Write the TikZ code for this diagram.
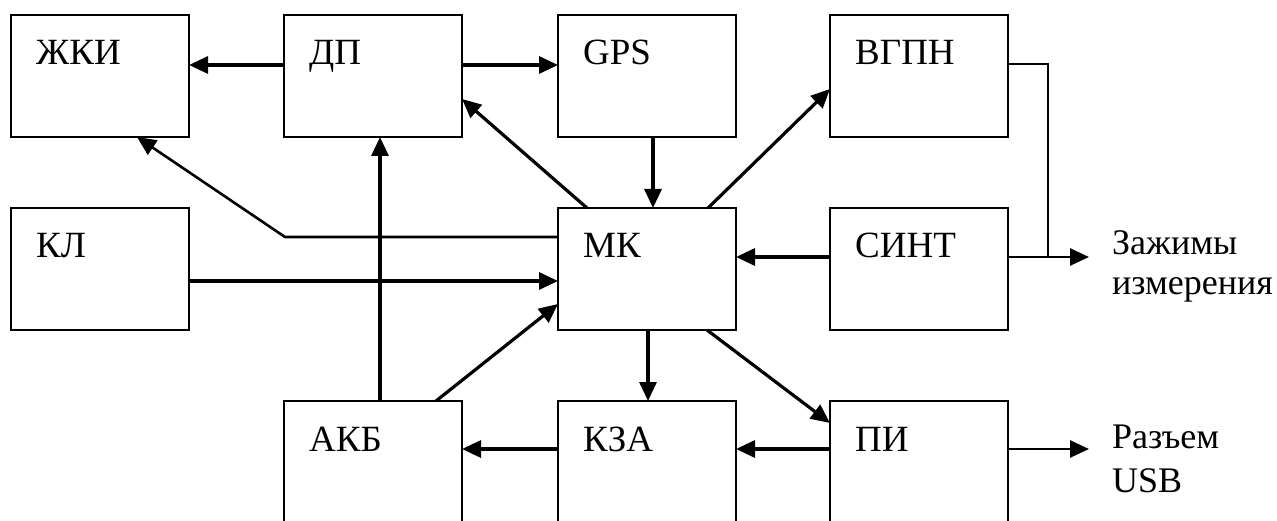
\documentclass[tikz,border=0pt]{standalone}
\usepackage{fontspec}
\setmainfont{Liberation Serif}
\usetikzlibrary{arrows.meta}
\begin{document}
\begin{tikzpicture}[x=1pt,y=-1pt,
  blk/.style={draw, line width=2.8pt, minimum width=178pt, minimum height=122pt, inner sep=0pt, outer sep=0pt, anchor=north west},
  blklow/.style={blk, minimum height=130pt},
  lab/.style={label={[anchor=base west, inner sep=0pt, font=\fontsize{37}{42}\selectfont, xshift=25pt, yshift=-50pt]north west:#1}},
  arr/.style={line width=3.2pt, -{Triangle[length=19pt,width=17pt]}},
  wire/.style={line width=2.4pt},
  outtxt/.style={anchor=base west, inner sep=0pt}
]
\useasboundingbox (0,0) rectangle (1277,521);
\clip (0,0) rectangle (1277,521);
% blocks
\node[blk, lab=ЖКИ] (zki) at (11,15) {};
\node[blk, lab=ДП] (dp) at (284,15) {};
\node[blk, lab=GPS] (gps) at (558,15) {};
\node[blk, lab=ВГПН] (vgpn) at (830,15) {};
\node[blk, lab=КЛ] (kl) at (11,208) {};
\node[blk, lab=МК] (mk) at (558,208) {};
\node[blk, lab=СИНТ] (sint) at (830,208) {};
\node[blklow, lab=АКБ] (akb) at (284,401) {};
\node[blklow, lab=КЗА] (kza) at (558,401) {};
\node[blklow, lab=ПИ] (pi) at (830,401) {};
% outside texts
\node[outtxt, font=\fontsize{36}{40}\selectfont] (zaz) at (1112,255) {\begin{tabular}[t]{@{}l@{}}Зажимы\\измерения\end{tabular}};
\node[outtxt, font=\fontsize{36}{44}\selectfont] (usb) at (1112,448) {\begin{tabular}[t]{@{}l@{}}Разъем\\USB\end{tabular}};
% free coordinates
\coordinate (bend) at (285,237);
\coordinate (junc) at (1048,257);
\coordinate (zend) at (1089,257);
\coordinate (uend) at (1089,449);
% connectors
\draw[arr] ([yshift=11pt]dp.west) -- ([yshift=11pt]zki.east);
\draw[arr] ([yshift=11pt]dp.east) -- ([yshift=11pt]gps.west);
\draw[arr] ([xshift=6pt]gps.south) -- ([xshift=6pt]mk.north);
\draw[arr] ([xshift=29pt]mk.north west) -- ([yshift=-23pt]dp.east);
\draw[arr] ([xshift=-28pt]mk.north east) -- ([yshift=-13pt]vgpn.west);
\draw[arr, line width=2.6pt] ([yshift=32pt]mk.west) -- (bend) -- ([xshift=37pt]zki.south);
\draw[arr] ([yshift=-12pt]kl.east) -- ([yshift=-12pt]mk.west);
\draw[arr] ([yshift=12pt]sint.west) -- ([yshift=12pt]mk.east);
\draw[arr] ([xshift=7pt]akb.north) -- ([xshift=7pt]dp.south);
\draw[arr] ([xshift=-26pt]akb.north east) -- ([yshift=-35pt]mk.west);
\draw[arr] ([xshift=1pt]mk.south) -- ([xshift=1pt]kza.north);
\draw[arr] ([xshift=-29pt]mk.south east) -- ([yshift=43pt]pi.west);
\draw[arr] ([yshift=17pt]kza.west) -- ([yshift=17pt]akb.east);
\draw[arr] ([yshift=17pt]pi.west) -- ([yshift=17pt]kza.east);
\draw[arr, line width=2.6pt] ([yshift=17pt]pi.east) -- (uend);
\draw[wire] ([yshift=12pt]vgpn.east) -| (junc);
\draw[arr, line width=2.6pt] ([yshift=12pt]sint.east) -- (zend);
\end{tikzpicture}
\end{document}
